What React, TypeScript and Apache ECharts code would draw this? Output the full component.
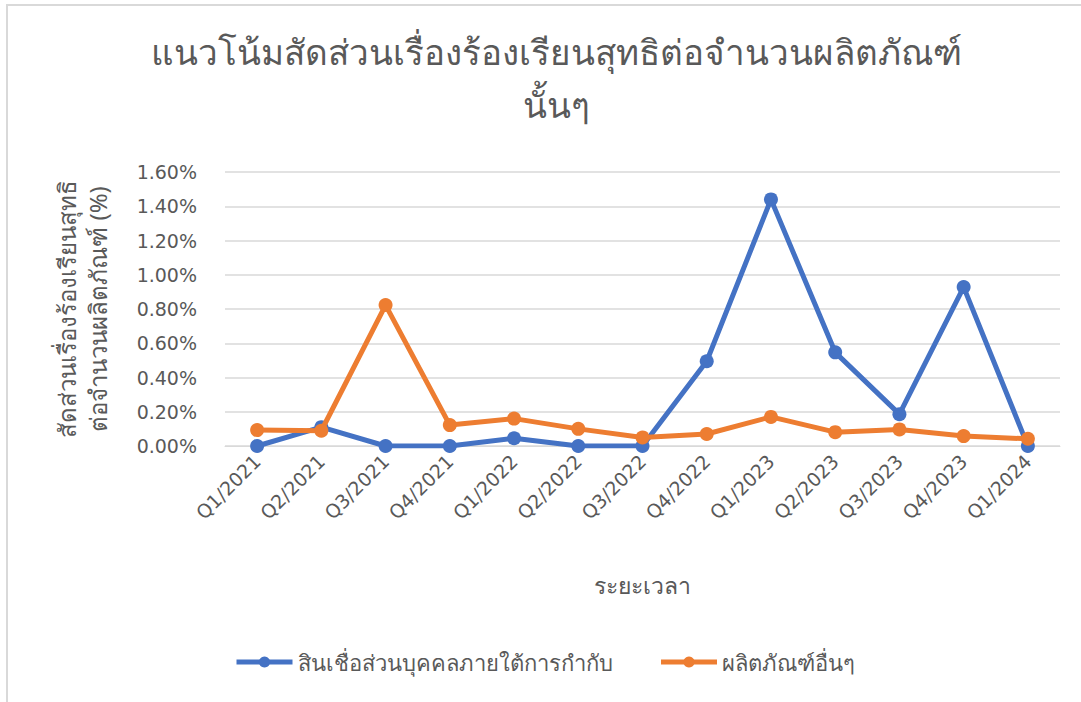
import React, { useEffect, useRef } from "react";
import * as echarts from "echarts";

const categories = [
  "Q1/2021", "Q2/2021", "Q3/2021", "Q4/2021",
  "Q1/2022", "Q2/2022", "Q3/2022", "Q4/2022",
  "Q1/2023", "Q2/2023", "Q3/2023", "Q4/2023",
  "Q1/2024",
];
const personalLoan = [0, 0.11, 0, 0, 0.045, 0, 0, 0.495, 1.44, 0.547, 0.186, 0.928, 0];
const otherProducts = [0.093, 0.089, 0.823, 0.122, 0.16, 0.1, 0.05, 0.07, 0.17, 0.081, 0.097, 0.058, 0.042];
const seriesNames = ["สินเชื่อส่วนบุคคลภายใต้การกำกับ", "ผลิตภัณฑ์อื่นๆ"];
const titleText = "แนวโน้มสัดส่วนเรื่องร้องเรียนสุทธิต่อจำนวนผลิตภัณฑ์\nนั้นๆ";
const yAxisTitle = "สัดส่วนเรื่องร้องเรียนสุทธิ\nต่อจำนวนผลิตภัณฑ์ (%)";
const xAxisTitle = "ระยะเวลา";

const FONT = "'Noto Sans', 'Open Sans', sans-serif";
const NUMFONT = "'DejaVu Sans', 'Noto Sans', sans-serif";
const GRAY = "#595959";

export default function App() {
  const ref = useRef<HTMLDivElement>(null);
  useEffect(() => {
    document.body.style.overflow = "hidden";
    const chart = echarts.init(ref.current!, null, { renderer: "svg" });
    chart.setOption({
      animation: false,
      textStyle: { fontFamily: FONT },
      title: {
        text: titleText,
        left: 543,
        textAlign: "center",
        top: 14,
        textStyle: { fontFamily: FONT, fontSize: 35, fontWeight: "normal", color: GRAY, lineHeight: 53 },
      },
      legend: {
        bottom: 24,
        left: "center",
        itemWidth: 56,
        itemHeight: 14,
        itemGap: 46,
        lineStyle: { width: 5 },
        textStyle: { fontFamily: FONT, fontSize: 22, color: GRAY },
        data: seriesNames,
      },
      grid: { left: 217, right: 21, top: 166, bottom: 256 },
      xAxis: {
        type: "category",
        data: categories,
        boundaryGap: true,
        name: xAxisTitle,
        nameLocation: "middle",
        nameGap: 127,
        nameTextStyle: { fontFamily: FONT, fontSize: 23, color: GRAY },
        axisLine: { show: true, lineStyle: { color: "#d9d9d9", width: 1 } },
        axisTick: { show: false },
        axisLabel: { rotate: 45, margin: 12, fontFamily: NUMFONT, fontSize: 19, color: GRAY },
      },
      yAxis: {
        type: "value",
        min: 0,
        max: 1.6,
        interval: 0.2,
        name: yAxisTitle,
        nameLocation: "middle",
        nameGap: 112,
        nameTextStyle: { fontFamily: FONT, fontSize: 24, color: GRAY, lineHeight: 31 },
        axisLine: { show: false },
        axisTick: { show: false },
        axisLabel: {
          margin: 28,
          fontFamily: NUMFONT,
          fontSize: 19,
          color: GRAY,
          formatter: (v: number) => v.toFixed(2) + "%",
        },
        splitLine: { lineStyle: { color: "#d9d9d9", width: 1.5 } },
      },
      series: [
        {
          name: seriesNames[0],
          type: "line",
          data: personalLoan,
          symbol: "circle",
          symbolSize: 14,
          lineStyle: { color: "#4472c4", width: 5 },
          itemStyle: { color: "#4472c4" },
          z: 2,
        },
        {
          name: seriesNames[1],
          type: "line",
          data: otherProducts,
          symbol: "circle",
          symbolSize: 14,
          lineStyle: { color: "#ed7d31", width: 5 },
          itemStyle: { color: "#ed7d31" },
          z: 3,
        },
      ],
    });
    return () => chart.dispose();
  }, []);
  return (
    <div
      style={{
        position: "absolute",
        left: 6,
        top: 4,
        width: 1075,
        height: 698,
        borderLeft: "2px solid #d9d9d9",
        borderTop: "2px solid #d9d9d9",
        boxSizing: "border-box",
        background: "#fff",
      }}
    >
      <div ref={ref} style={{ width: 1073, height: 696 }} />
    </div>
  );
}
